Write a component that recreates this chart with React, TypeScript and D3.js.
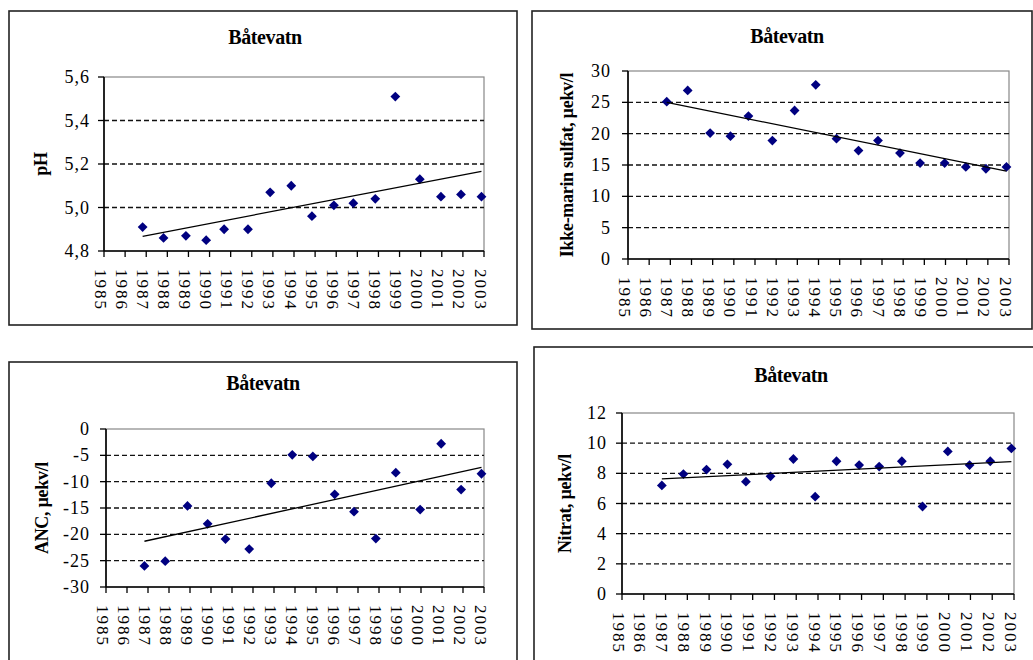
import React from "react";
import * as d3 from "d3";

// sampling dates (decimal years) shared by all four panels
const sampleDates = [1986.83, 1987.82, 1988.88, 1989.84, 1990.69, 1991.82, 1992.87, 1993.87, 1994.85, 1995.89, 1996.81, 1997.85, 1998.8, 1999.96, 2000.96, 2001.91, 2002.88];
const yearTicks = [1985, 1986, 1987, 1988, 1989, 1990, 1991, 1992, 1993, 1994, 1995, 1996, 1997, 1998, 1999, 2000, 2001, 2002, 2003];

const phValues = [4.91, 4.86, 4.87, 4.85, 4.9, 4.9, 5.07, 5.1, 4.96, 5.01, 5.02, 5.04, 5.51, 5.13, 5.05, 5.06, 5.05];
const sulfatValues = [25.1, 26.9, 20.1, 19.6, 22.8, 18.9, 23.7, 27.8, 19.2, 17.3, 18.9, 16.9, 15.3, 15.3, 14.7, 14.4, 14.7];
const ancValues = [-26.0, -25.1, -14.6, -18.0, -20.9, -22.8, -10.3, -4.9, -5.2, -12.4, -15.7, -20.8, -8.3, -15.3, -2.8, -11.5, -8.5];
const nitratValues = [7.2, 7.95, 8.25, 8.6, 7.45, 7.8, 8.95, 6.45, 8.8, 8.55, 8.45, 8.8, 5.8, 9.45, 8.55, 8.8, 9.65];

const phTicks = [4.8, 5.0, 5.2, 5.4, 5.6];
const sulfatTicks = [0, 5, 10, 15, 20, 25, 30];
const ancTicks = [-30, -25, -20, -15, -10, -5, 0];
const nitratTicks = [0, 2, 4, 6, 8, 10, 12];

const title = "Båtevatn";
const FONT = "'Liberation Serif', 'Times New Roman', serif";

const panels = [
  { values: phValues, ticks: phTicks, label: "pH", fmt: (v: number) => v.toFixed(1).replace(".", ","),
    frame: [9, 11, 508, 314], plot: [104, 484, 77, 251], titleX: 265, titleY: 37, labelX: 41, tickGap: 14 },
  { values: sulfatValues, ticks: sulfatTicks, label: "Ikke-marin sulfat, µekv/l", fmt: (v: number) => String(v),
    frame: [532, 11, 500, 318], plot: [628, 1009, 71, 259], titleX: 787, titleY: 36, labelX: 567, tickGap: 17 },
  { values: ancValues, ticks: ancTicks, label: "ANC, µekv/l", fmt: (v: number) => String(v),
    frame: [9, 362, 508, 320], plot: [106, 484, 429, 587], titleX: 263, titleY: 383, labelX: 42, tickGap: 16 },
  { values: nitratValues, ticks: nitratTicks, label: "Nitrat, µekv/l", fmt: (v: number) => String(v),
    frame: [534, 347, 520, 340], plot: [622, 1014, 413, 594], titleX: 791, titleY: 375, labelX: 565, tickGap: 15 },
];

function regression(xs: number[], ys: number[]) {
  const mx = d3.mean(xs)!;
  const my = d3.mean(ys)!;
  const sxy = d3.sum(xs, (x, i) => (x - mx) * (ys[i] - my));
  const sxx = d3.sum(xs, (x) => (x - mx) * (x - mx));
  const b = sxy / sxx;
  return (x: number) => my + b * (x - mx);
}

function Panel({ p }: { p: typeof panels[number] }) {
  const [fx, fy, fw, fh] = p.frame;
  const [l, r, t, b] = p.plot;
  const x = d3.scaleLinear().domain([yearTicks[0], yearTicks[yearTicks.length - 1]]).range([l, r]);
  const y = d3.scaleLinear().domain([p.ticks[0], p.ticks[p.ticks.length - 1]]).range([b, t]);
  const fit = regression(sampleDates, p.values);
  const x0 = sampleDates[0];
  const x1 = sampleDates[sampleDates.length - 1];
  const diamond = d3.symbol().type(d3.symbolSquare).size(48)()!;

  return (
    <g>
      <rect x={fx} y={fy} width={fw} height={fh} fill="#fff" stroke="#222" strokeWidth={1.6} />
      <text x={p.titleX} y={p.titleY} textAnchor="middle" dominantBaseline="central"
        fontFamily={FONT} fontWeight="bold" fontSize={20} letterSpacing={-0.4}>{title}</text>
      <rect x={l} y={t} width={r - l} height={b - t} fill="none" stroke="#888" strokeWidth={1.2} />
      {p.ticks.slice(1, -1).map((v) => (
        <line key={v} x1={l} x2={r} y1={y(v)} y2={y(v)} stroke="#111" strokeWidth={1.4} strokeDasharray="5,3" />
      ))}
      <line x1={l} x2={l} y1={t} y2={b} stroke="#000" strokeWidth={1.6} />
      <line x1={l} x2={r} y1={b} y2={b} stroke="#000" strokeWidth={1.6} />
      {p.ticks.map((v) => (
        <g key={v}>
          <line x1={l - 6} x2={l} y1={y(v)} y2={y(v)} stroke="#000" strokeWidth={1.3} />
          <text x={l - p.tickGap} y={y(v)} textAnchor="end" dominantBaseline="central"
            fontFamily={FONT} fontSize={18} letterSpacing={1}>{p.fmt(v)}</text>
        </g>
      ))}
      {yearTicks.map((yr) => (
        <g key={yr}>
          <line x1={x(yr)} x2={x(yr)} y1={b} y2={b + 6} stroke="#000" strokeWidth={1.3} />
          <text transform={`translate(${x(yr) - 4},${b + 18}) rotate(90)`} dominantBaseline="central"
            fontFamily={FONT} fontSize={17} letterSpacing={2}>{yr}</text>
        </g>
      ))}
      <text transform={`translate(${p.labelX},${(t + b) / 2}) rotate(-90)`} textAnchor="middle" dominantBaseline="central"
        fontFamily={FONT} fontWeight="bold" fontSize={18} letterSpacing={-0.3}>{p.label}</text>
      {sampleDates.map((d, i) => (
        <path key={i} d={diamond} transform={`translate(${x(d)},${y(p.values[i])}) rotate(45)`} fill="#000080" />
      ))}
      <line x1={x(x0)} x2={x(x1)} y1={y(fit(x0))} y2={y(fit(x1))} stroke="#000" strokeWidth={1.3} />
    </g>
  );
}

export default function App() {
  return (
    <svg width={1033} height={660} style={{ position: "absolute", left: 0, top: 0, background: "#fff" }}>
      {panels.map((p, i) => <Panel key={i} p={p} />)}
    </svg>
  );
}
